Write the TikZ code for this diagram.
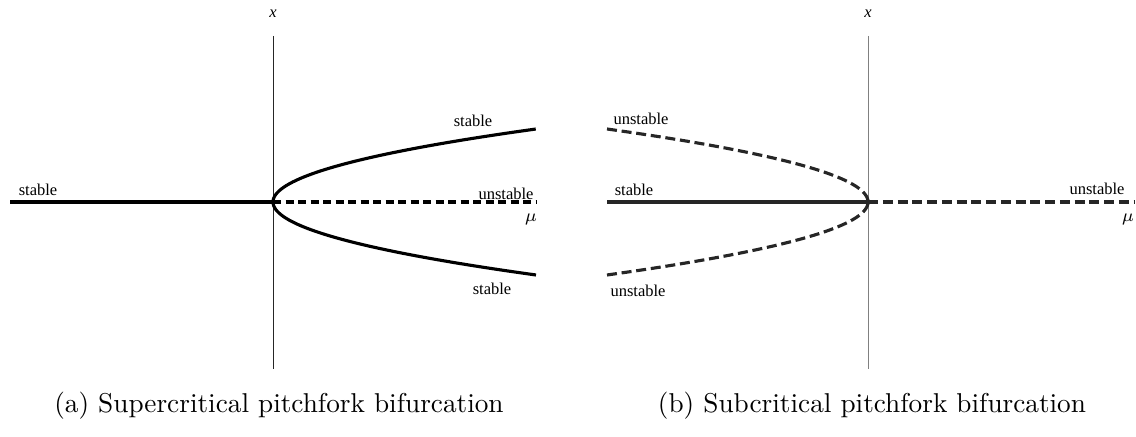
\documentclass[tikz,border=0pt]{standalone}
\usepackage{fontspec}
\newfontfamily\plotfont{Liberation Serif}
\begin{document}
\begin{tikzpicture}[x=0.4pt,y=-0.4pt,
  axisline/.style={line width=0.4pt},
  branch/.style={line width=1.25pt},
  dashbranch/.style={line width=1.25pt,dash pattern=on 3.2pt off 1.8pt},
  longdash/.style={line width=1.25pt,dash pattern=on 4pt off 1.9pt},
  lbl/.style={font=\plotfont\fontsize{6.6}{7.6}\selectfont,inner sep=0pt},
  axlbl/.style={font=\plotfont\itshape\fontsize{6.6}{7.6}\selectfont,inner sep=0pt},
  captext/.style={font=\fontsize{10.9}{13}\selectfont,inner sep=0pt}]
\useasboundingbox (0,0) rectangle (1136,437);

% ---------- (a) supercritical ----------
\coordinate (aO) at (273,202);
\coordinate (aTop) at (273,36);
\coordinate (aBot) at (273,369);
\coordinate (aL) at (10,202);
\coordinate (aR) at (536,202);
\draw[axisline,draw=black!85] (aTop) -- (aBot);
\draw[branch] (aL) -- (aO);
\draw[dashbranch] (aO) -- (aR);
\draw[branch] plot[domain=-1:1,samples=81,smooth,variable=\t]
  ({273+263*\t*\t},{202-73*\t});
\node[axlbl] (ax) at (273,14) {x};
\node[axlbl] (amu) at (531,219) {$\mu$};
\node[lbl] (as1) at (38,190) {stable};
\node[lbl] (as2) at (473,121) {stable};
\node[lbl] (au) at (506,194) {unstable};
\node[lbl] (as3) at (492,289) {stable};
\node[captext] (capa) at (279,406) {(a) Supercritical pitchfork bifurcation};

% ---------- (b) subcritical ----------
\coordinate (bO) at (868,202);
\coordinate (bTop) at (868,36);
\coordinate (bBot) at (868,369);
\coordinate (bL) at (607,202);
\coordinate (bR) at (1134,202);
\draw[axisline,draw=black!50] (bTop) -- (bBot);
\draw[branch,draw=black!85] (bL) -- (bO);
\draw[longdash,draw=black!85] (bO) -- (bR);
% unstable branches, each drawn from its outer end towards the vertex
\draw[longdash,draw=black!85] plot[domain=1:0,samples=51,smooth,variable=\t]
  ({868-261*\t*\t},{202-73*\t});
\draw[longdash,draw=black!85] plot[domain=-1:0,samples=51,smooth,variable=\t]
  ({868-261*\t*\t},{202-73*\t});
\fill[black!85] (bO) circle (1.1pt);
\node[axlbl] (bx) at (868,14) {x};
\node[axlbl] (bmu) at (1128,219) {$\mu$};
\node[lbl] (bu1) at (641,119) {unstable};
\node[lbl] (bs) at (634,190) {stable};
\node[lbl] (bu2) at (1097,189) {unstable};
\node[lbl] (bu3) at (638,291) {unstable};
\node[captext] (capb) at (872,406) {(b) Subcritical pitchfork bifurcation};
\end{tikzpicture}
\end{document}
